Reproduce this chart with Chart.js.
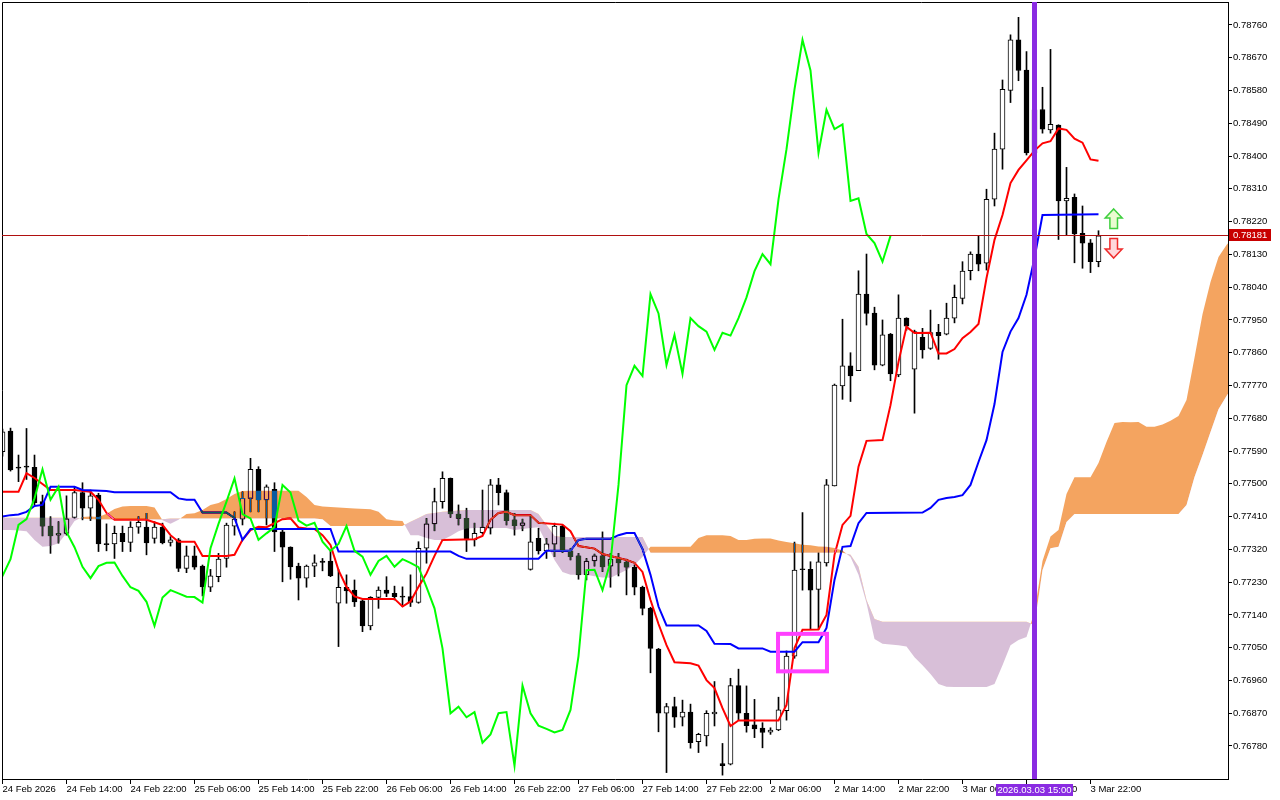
<!DOCTYPE html>
<html>
<head>
<meta charset="utf-8">
<title>AUDCAD-like H1 Ichimoku</title>
<script src="https://cdn.jsdelivr.net/npm/chart.js"></script>
<style>
  html, body { margin: 0; padding: 0; background: #fff; }
  #wrap { width: 1280px; height: 800px; }
</style>
</head>
<body>
<div id="wrap"><canvas id="chart" width="1280" height="800"></canvas></div>
<script>
// hourly candles, bar 0 = 24 Feb 06:00
const open = [
    0.77588, 0.77645, 0.77545, 0.77547, 0.77545, 0.77451, 0.77384, 0.77359, 0.77364, 0.77408,
    0.77476, 0.77433, 0.77469, 0.77335, 0.77335, 0.77364, 0.77339, 0.77381, 0.77381, 0.77350,
    0.77381, 0.77339, 0.77346, 0.77268, 0.77302, 0.77274, 0.77216, 0.77245, 0.77295, 0.77384,
    0.77403, 0.77460, 0.77540, 0.77456, 0.77485, 0.77368, 0.77326, 0.77274, 0.77241, 0.77274,
    0.77288, 0.77288, 0.77172, 0.77216, 0.77208, 0.77179, 0.77110, 0.77188, 0.77208, 0.77199,
    0.77192, 0.77190, 0.77174, 0.77323, 0.77390, 0.77451, 0.77515, 0.77417, 0.77405, 0.77346,
    0.77366, 0.77378, 0.77497, 0.77476, 0.77401, 0.77386, 0.77265, 0.77350, 0.77316, 0.77334,
    0.77384, 0.77316, 0.77302, 0.77250, 0.77288, 0.77302, 0.77274, 0.77293, 0.77285, 0.77271,
    0.77216, 0.77158, 0.77046, 0.76870, 0.76888, 0.76859, 0.76873, 0.76792, 0.76808, 0.76868,
    0.76732, 0.76730, 0.76946, 0.76870, 0.76838, 0.76829, 0.76818, 0.76824, 0.76877, 0.77027,
    0.77265, 0.77265, 0.77210, 0.77283, 0.77494, 0.77769, 0.77824, 0.77811, 0.78021, 0.77969,
    0.77826, 0.77911, 0.77799, 0.77955, 0.77815, 0.77902, 0.77872, 0.77916, 0.77911, 0.77955,
    0.78009, 0.78085, 0.78131, 0.78106, 0.78282, 0.78419, 0.78580, 0.78719, 0.78636, 0.78409,
    0.78528, 0.78472, 0.78485, 0.78277, 0.78287, 0.78188, 0.78162, 0.78110
];
const high = [
    0.77650, 0.77653, 0.77579, 0.77652, 0.77579, 0.77469, 0.77410, 0.77396, 0.77467, 0.77492,
    0.77503, 0.77483, 0.77474, 0.77390, 0.77384, 0.77384, 0.77396, 0.77410, 0.77419, 0.77396,
    0.77392, 0.77355, 0.77350, 0.77329, 0.77329, 0.77277, 0.77265, 0.77309, 0.77392, 0.77423,
    0.77478, 0.77570, 0.77547, 0.77497, 0.77503, 0.77373, 0.77327, 0.77282, 0.77277, 0.77305,
    0.77295, 0.77318, 0.77265, 0.77250, 0.77236, 0.77181, 0.77190, 0.77217, 0.77245, 0.77219,
    0.77217, 0.77250, 0.77341, 0.77405, 0.77488, 0.77533, 0.77516, 0.77442, 0.77433, 0.77392,
    0.77483, 0.77512, 0.77515, 0.77483, 0.77419, 0.77403, 0.77414, 0.77378, 0.77350, 0.77392,
    0.77387, 0.77323, 0.77309, 0.77295, 0.77307, 0.77368, 0.77309, 0.77309, 0.77293, 0.77277,
    0.77219, 0.77161, 0.77048, 0.76897, 0.76914, 0.76906, 0.76895, 0.76815, 0.76877, 0.76957,
    0.76787, 0.76966, 0.76991, 0.76945, 0.76908, 0.76844, 0.76830, 0.76914, 0.77041, 0.77340,
    0.77421, 0.77286, 0.77310, 0.77512, 0.77774, 0.77952, 0.77860, 0.78085, 0.78131, 0.77985,
    0.77950, 0.77913, 0.78019, 0.77956, 0.77922, 0.77927, 0.77977, 0.77938, 0.77996, 0.78046,
    0.78110, 0.78137, 0.78181, 0.78309, 0.78463, 0.78609, 0.78733, 0.78781, 0.78687, 0.78554,
    0.78589, 0.78693, 0.78486, 0.78369, 0.78296, 0.78263, 0.78171, 0.78195
];
const low = [
    0.77576, 0.77535, 0.77506, 0.77512, 0.77442, 0.77357, 0.77309, 0.77337, 0.77359, 0.77406,
    0.77401, 0.77399, 0.77314, 0.77316, 0.77295, 0.77314, 0.77314, 0.77364, 0.77305, 0.77337,
    0.77335, 0.77329, 0.77259, 0.77256, 0.77265, 0.77192, 0.77204, 0.77231, 0.77271, 0.77359,
    0.77387, 0.77423, 0.77423, 0.77387, 0.77314, 0.77231, 0.77238, 0.77181, 0.77216, 0.77245,
    0.77261, 0.77245, 0.77053, 0.77172, 0.77163, 0.77094, 0.77099, 0.77158, 0.77190, 0.77181,
    0.77163, 0.77163, 0.77172, 0.77282, 0.77371, 0.77433, 0.77408, 0.77387, 0.77314, 0.77329,
    0.77362, 0.77362, 0.77442, 0.77387, 0.77359, 0.77371, 0.77263, 0.77307, 0.77295, 0.77300,
    0.77311, 0.77291, 0.77238, 0.77236, 0.77274, 0.77259, 0.77216, 0.77247, 0.77195, 0.77195,
    0.77140, 0.76981, 0.76819, 0.76707, 0.76831, 0.76835, 0.76774, 0.76762, 0.76780, 0.76835,
    0.76700, 0.76728, 0.76851, 0.76818, 0.76803, 0.76775, 0.76812, 0.76822, 0.76851, 0.77021,
    0.77208, 0.77100, 0.77100, 0.77274, 0.77494, 0.77732, 0.77726, 0.77811, 0.77936, 0.77813,
    0.77824, 0.77783, 0.77794, 0.77922, 0.77694, 0.77845, 0.77869, 0.77842, 0.77909, 0.77942,
    0.77994, 0.78060, 0.78085, 0.78087, 0.78263, 0.78364, 0.78547, 0.78607, 0.78403, 0.78389,
    0.78463, 0.78463, 0.78171, 0.78183, 0.78107, 0.78092, 0.78080, 0.78096
];
const close = [
    0.77643, 0.77538, 0.77543, 0.77546, 0.77448, 0.77384, 0.77357, 0.77364, 0.77404, 0.77476,
    0.77433, 0.77467, 0.77335, 0.77333, 0.77364, 0.77341, 0.77381, 0.77394, 0.77338, 0.77381,
    0.77338, 0.77346, 0.77268, 0.77302, 0.77271, 0.77217, 0.77247, 0.77293, 0.77387, 0.77403,
    0.77460, 0.77540, 0.77456, 0.77492, 0.77368, 0.77326, 0.77272, 0.77241, 0.77274, 0.77283,
    0.77284, 0.77247, 0.77216, 0.77206, 0.77176, 0.77110, 0.77188, 0.77208, 0.77199, 0.77190,
    0.77189, 0.77174, 0.77323, 0.77390, 0.77451, 0.77515, 0.77417, 0.77405, 0.77346, 0.77364,
    0.77381, 0.77497, 0.77476, 0.77399, 0.77385, 0.77393, 0.77341, 0.77316, 0.77335, 0.77384,
    0.77316, 0.77300, 0.77250, 0.77288, 0.77302, 0.77272, 0.77293, 0.77283, 0.77271, 0.77216,
    0.77158, 0.77048, 0.76870, 0.76888, 0.76859, 0.76873, 0.76789, 0.76812, 0.76870, 0.76873,
    0.76726, 0.76946, 0.76870, 0.76836, 0.76827, 0.76817, 0.76824, 0.76879, 0.77027, 0.77263,
    0.77264, 0.77208, 0.77286, 0.77497, 0.77771, 0.77824, 0.77796, 0.78021, 0.77968, 0.77826,
    0.77909, 0.77802, 0.77955, 0.77933, 0.77918, 0.77868, 0.77915, 0.77907, 0.77955, 0.78012,
    0.78084, 0.78131, 0.78103, 0.78281, 0.78419, 0.78583, 0.78719, 0.78635, 0.78409, 0.78527,
    0.78474, 0.78487, 0.78277, 0.78284, 0.78186, 0.78161, 0.78110, 0.78181
];

// Tenkan-sen (red) and Kijun-sen (blue), read at their corners
const tenkanBar = [0, 2, 3, 4, 6, 9, 11, 12, 13, 14, 18, 20, 21, 22, 24, 25, 28, 29, 30, 31,
    32, 33, 35, 36, 37, 38, 39, 40, 41, 42, 43, 44, 45, 49, 50, 51, 52, 53, 54, 55,
    59, 60, 61, 62, 63, 64, 66, 67, 70, 71, 72, 74, 75, 76, 78, 79, 80, 81, 82, 83,
    84, 86, 87, 88, 89, 90, 91, 92, 97, 98, 99, 100, 102, 103, 104, 105, 106, 107, 108, 110,
    111, 112, 113, 114, 116, 117, 118, 119, 120, 121, 122, 123, 124, 125, 126, 127, 128, 129, 130, 131,
    132, 133, 134, 135, 136, 137];
const tenkanVal = [0.77478, 0.77478, 0.77529, 0.77516, 0.77483, 0.77483, 0.77478, 0.77456, 0.77420, 0.77401,
    0.77401, 0.77387, 0.77359, 0.77341, 0.77341, 0.77302, 0.77302, 0.77305, 0.77346, 0.77373,
    0.77382, 0.77381, 0.77403, 0.77405, 0.77380, 0.77377, 0.77376, 0.77359, 0.77332, 0.77263,
    0.77217, 0.77191, 0.77184, 0.77184, 0.77163, 0.77177, 0.77217, 0.77254, 0.77302, 0.77346,
    0.77348, 0.77357, 0.77401, 0.77420, 0.77423, 0.77414, 0.77414, 0.77393, 0.77388, 0.77370,
    0.77329, 0.77322, 0.77307, 0.77302, 0.77291, 0.77283, 0.77258, 0.77181, 0.77115, 0.77057,
    0.77010, 0.77007, 0.77001, 0.76961, 0.76939, 0.76884, 0.76835, 0.76850, 0.76850, 0.76893,
    0.77049, 0.77099, 0.77100, 0.77140, 0.77305, 0.77387, 0.77412, 0.77547, 0.77618, 0.77620,
    0.77716, 0.77835, 0.77931, 0.77914, 0.77915, 0.77858, 0.77858, 0.77870, 0.77900, 0.77917,
    0.77939, 0.78065, 0.78170, 0.78238, 0.78326, 0.78362, 0.78388, 0.78415, 0.78435, 0.78441,
    0.78476, 0.78472, 0.78448, 0.78437, 0.78391, 0.78387];

const kijunBar = [0, 1, 2, 3, 4, 5, 6, 9, 10, 13, 14, 21, 22, 23, 24, 25, 28, 29, 30, 31,
    41, 42, 56, 57, 58, 67, 68, 71, 72, 73, 76, 77, 78, 79, 80, 81, 82, 83, 87, 88,
    89, 91, 92, 95, 96, 99, 100, 102, 103, 104, 105, 106, 107, 108, 115, 116, 117, 118, 119, 120,
    121, 122, 123, 124, 125, 126, 127, 128, 129, 130, 137];
const kijunVal = [0.77410, 0.77414, 0.77416, 0.77423, 0.77439, 0.77442, 0.77492, 0.77492, 0.77483, 0.77480,
    0.77477, 0.77477, 0.77460, 0.77456, 0.77456, 0.77421, 0.77421, 0.77406, 0.77346, 0.77376,
    0.77376, 0.77314, 0.77314, 0.77302, 0.77294, 0.77294, 0.77316, 0.77316, 0.77346, 0.77349,
    0.77349, 0.77359, 0.77365, 0.77365, 0.77321, 0.77250, 0.77163, 0.77111, 0.77111, 0.77096,
    0.77061, 0.77060, 0.77048, 0.77048, 0.77039, 0.77039, 0.77065, 0.77065, 0.77104, 0.77236,
    0.77327, 0.77329, 0.77392, 0.77420, 0.77421, 0.77434, 0.77456, 0.77461, 0.77464, 0.77469,
    0.77497, 0.77560, 0.77620, 0.77719, 0.77862, 0.77918, 0.77955, 0.78019, 0.78120, 0.78238,
    0.78240];

// Chikou span (green), first value sits on bar -1
const chikouStart = -1;
const chikou = [
    0.77217, 0.77247, 0.77293, 0.77387, 0.77403, 0.77460, 0.77540, 0.77456, 0.77492, 0.77368,
    0.77326, 0.77272, 0.77241, 0.77274, 0.77283, 0.77284, 0.77247, 0.77216, 0.77206, 0.77176,
    0.77110, 0.77188, 0.77208, 0.77199, 0.77190, 0.77189, 0.77174, 0.77323, 0.77390, 0.77451,
    0.77515, 0.77417, 0.77405, 0.77346, 0.77364, 0.77381, 0.77497, 0.77476, 0.77399, 0.77385,
    0.77393, 0.77341, 0.77316, 0.77335, 0.77384, 0.77316, 0.77300, 0.77250, 0.77288, 0.77302,
    0.77272, 0.77293, 0.77283, 0.77271, 0.77216, 0.77158, 0.77048, 0.76870, 0.76888, 0.76859,
    0.76873, 0.76789, 0.76812, 0.76870, 0.76873, 0.76726, 0.76946, 0.76870, 0.76836, 0.76827,
    0.76817, 0.76824, 0.76879, 0.77027, 0.77263, 0.77264, 0.77208, 0.77286, 0.77497, 0.77771,
    0.77824, 0.77796, 0.78021, 0.77968, 0.77826, 0.77909, 0.77802, 0.77955, 0.77933, 0.77918,
    0.77868, 0.77915, 0.77907, 0.77955, 0.78012, 0.78084, 0.78131, 0.78103, 0.78281, 0.78419,
    0.78583, 0.78719, 0.78635, 0.78409, 0.78527, 0.78474, 0.78487, 0.78277, 0.78284, 0.78186,
    0.78161, 0.78110, 0.78181
];

// Senkou span A / B (cloud), same bars for both
const cloudBar = [
    0, 1, 2, 3, 4, 5, 6, 7, 8, 9,
    10, 11, 12, 13, 14, 15, 16, 18, 19, 20,
    21, 22, 23, 24, 25, 26, 27, 28, 29, 30,
    31, 37, 38, 39, 40, 41, 42, 44, 46, 47,
    48, 49, 50, 51, 52, 53, 54, 55, 56, 57,
    58, 59, 63, 64, 65, 66, 67, 68, 69, 70,
    71, 73, 74, 75, 76, 77, 78, 79, 80, 81,
    86, 87, 88, 90, 91, 92, 93, 94, 95, 96,
    97, 98, 99, 100, 101, 102, 103, 104, 105, 106,
    107, 108, 109, 110, 111, 112, 113, 114, 115, 116,
    117, 118, 119, 123, 124, 125, 126, 127, 128, 129,
    130, 131, 132, 133, 134, 136, 137, 138, 139, 140,
    141, 142, 143, 144, 145, 146, 147, 148, 149, 150,
    151, 152, 153, 154
];
const spanA = [
    0.77373, 0.77373, 0.77372, 0.77370, 0.77346, 0.77327, 0.77329, 0.77337, 0.77365, 0.77398,
    0.77409, 0.77410, 0.77409, 0.77418, 0.77431, 0.77438, 0.77439, 0.77439, 0.77435, 0.77400,
    0.77390, 0.77401, 0.77417, 0.77419, 0.77428, 0.77442, 0.77447, 0.77458, 0.77472, 0.77480,
    0.77481, 0.77481, 0.77464, 0.77442, 0.77438, 0.77436, 0.77435, 0.77432, 0.77430, 0.77423,
    0.77403, 0.77399, 0.77398, 0.77359, 0.77359, 0.77351, 0.77346, 0.77346, 0.77357, 0.77370,
    0.77377, 0.77379, 0.77379, 0.77373, 0.77376, 0.77379, 0.77381, 0.77337, 0.77291, 0.77258,
    0.77250, 0.77250, 0.77246, 0.77243, 0.77242, 0.77252, 0.77263, 0.77277, 0.77300, 0.77327,
    0.77327, 0.77351, 0.77359, 0.77359, 0.77357, 0.77346, 0.77346, 0.77349, 0.77350, 0.77350,
    0.77344, 0.77340, 0.77337, 0.77333, 0.77331, 0.77328, 0.77327, 0.77324, 0.77317, 0.77299,
    0.77250, 0.77173, 0.77074, 0.77061, 0.77059, 0.77057, 0.77053, 0.77024, 0.77002, 0.76978,
    0.76950, 0.76943, 0.76942, 0.76942, 0.76950, 0.77002, 0.77057, 0.77071, 0.77079, 0.77148,
    0.77288, 0.77355, 0.77373, 0.77472, 0.77518, 0.77518, 0.77557, 0.77615, 0.77667, 0.77670,
    0.77669, 0.77670, 0.77657, 0.77657, 0.77663, 0.77673, 0.77686, 0.77730, 0.77846, 0.77966,
    0.78054, 0.78123, 0.78156, 0.78180
];
const spanB = [
    0.77407, 0.77407, 0.77407, 0.77407, 0.77407, 0.77407, 0.77407, 0.77407, 0.77407, 0.77407,
    0.77404, 0.77403, 0.77402, 0.77402, 0.77402, 0.77402, 0.77402, 0.77402, 0.77402, 0.77403,
    0.77405, 0.77405, 0.77405, 0.77405, 0.77405, 0.77405, 0.77405, 0.77405, 0.77405, 0.77405,
    0.77405, 0.77405, 0.77405, 0.77405, 0.77403, 0.77384, 0.77384, 0.77384, 0.77384, 0.77384,
    0.77384, 0.77384, 0.77384, 0.77396, 0.77406, 0.77417, 0.77420, 0.77423, 0.77425, 0.77427,
    0.77428, 0.77428, 0.77428, 0.77428, 0.77428, 0.77428, 0.77417, 0.77387, 0.77357, 0.77354,
    0.77354, 0.77354, 0.77354, 0.77354, 0.77354, 0.77354, 0.77354, 0.77354, 0.77354, 0.77311,
    0.77311, 0.77311, 0.77311, 0.77311, 0.77311, 0.77311, 0.77311, 0.77311, 0.77311, 0.77311,
    0.77311, 0.77311, 0.77311, 0.77311, 0.77311, 0.77311, 0.77311, 0.77311, 0.77311, 0.77305,
    0.77272, 0.77181, 0.77129, 0.77121, 0.77121, 0.77121, 0.77121, 0.77121, 0.77121, 0.77121,
    0.77121, 0.77121, 0.77121, 0.77121, 0.77121, 0.77121, 0.77121, 0.77121, 0.77121, 0.77112,
    0.77263, 0.77323, 0.77327, 0.77395, 0.77417, 0.77417, 0.77417, 0.77417, 0.77417, 0.77417,
    0.77417, 0.77417, 0.77417, 0.77417, 0.77417, 0.77417, 0.77417, 0.77442, 0.77519, 0.77579,
    0.77642, 0.77705, 0.77741, 0.77775
];

// axes
const timeTicks = [0, 8, 16, 24, 32, 40, 48, 56, 64, 72, 80, 88, 96, 104, 112, 120, 128, 136];
const timeLabels = ['24 Feb 2026', '24 Feb 14:00', '24 Feb 22:00', '25 Feb 06:00', '25 Feb 14:00',
    '25 Feb 22:00', '26 Feb 06:00', '26 Feb 14:00', '26 Feb 22:00', '27 Feb 06:00', '27 Feb 14:00',
    '27 Feb 22:00', '2 Mar 06:00', '2 Mar 14:00', '2 Mar 22:00', '3 Mar 06:00', '3 Mar 14:00', '3 Mar 22:00'];
const priceTicks = [0.76780, 0.76870, 0.76960, 0.77050, 0.77140, 0.77230, 0.77320, 0.77410,
    0.77500, 0.77590, 0.77680, 0.77770, 0.77860, 0.77950, 0.78040, 0.78130, 0.78220, 0.78310,
    0.78400, 0.78490, 0.78580, 0.78670, 0.78760];

// objects on the chart
const lastPrice = 0.78181;
const markerBar = 129;
const markerLabel = '2026.03.03 15:00';
const boxBars = [96.94, 103.06];
const boxPrices = [0.77088, 0.76985];
const arrowBar = 138.9;
const arrowUpPrice = 0.78255;
const arrowDownPrice = 0.78120;

const FONT = "9.5px 'Liberation Sans', Arial, sans-serif";
const bars = open.map((_, i) => i);
const toPoints = (xs, ys) => xs.map((x, k) => ({ x: x, y: ys[k] }));

// cloud is painted like MT5 does: inverted colours with 'difference',
// so it shows sandy brown / thistle on white and turns dark candles blue / green
const IDX_SPAN_A = 4;
const IDX_SPAN_B = 5;

function drawArrow(ctx, cx, tipY, dir, stroke, fill) {
    // dir 1 = pointing up (body below tip), -1 = pointing down
    const pts = [[0, 0], [8.5, 9], [3.8, 9], [3.8, 19.5], [-3.8, 19.5], [-3.8, 9], [-8.5, 9]];
    ctx.beginPath();
    pts.forEach(([dx, dy], k) => {
        const px = cx + dx, py = tipY + dir * dy;
        if (k === 0) ctx.moveTo(px, py); else ctx.lineTo(px, py);
    });
    ctx.closePath();
    ctx.fillStyle = fill;
    ctx.fill();
    ctx.lineWidth = 1.5;
    ctx.strokeStyle = stroke;
    ctx.stroke();
}

const mt5Overlay = {
    id: 'mt5Overlay',
    beforeDraw(chart) {
        const c = chart.ctx;
        c.save();
        c.fillStyle = '#ffffff';
        c.fillRect(0, 0, chart.width, chart.height);
        c.restore();
    },
    afterDatasetDraw(chart, args) {
        if (args.index === IDX_SPAN_B) chart.ctx.globalCompositeOperation = 'difference';
        if (args.index === IDX_SPAN_A) chart.ctx.globalCompositeOperation = 'source-over';
    },
    afterDraw(chart) {
        const c = chart.ctx, a = chart.chartArea;
        const xs = chart.scales.x, ys = chart.scales.y;
        c.save();
        c.globalCompositeOperation = 'source-over';

        // left and top part of the frame
        c.strokeStyle = '#000';
        c.lineWidth = 1;
        c.beginPath();
        c.moveTo(a.left + 0.5, a.bottom);
        c.lineTo(a.left + 0.5, a.top + 0.5);
        c.lineTo(a.right, a.top + 0.5);
        c.stroke();

        // magenta rectangle
        const bx0 = xs.getPixelForValue(boxBars[0]), bx1 = xs.getPixelForValue(boxBars[1]);
        const by0 = ys.getPixelForValue(boxPrices[0]), by1 = ys.getPixelForValue(boxPrices[1]);
        c.strokeStyle = '#ff40ff';
        c.lineWidth = 4;
        c.strokeRect(bx0, by0, bx1 - bx0, by1 - by0);

        // arrows
        const ax = xs.getPixelForValue(arrowBar);
        drawArrow(c, ax, ys.getPixelForValue(arrowUpPrice), 1, '#3fcf3f', 'rgba(225,250,190,0.7)');
        drawArrow(c, ax, ys.getPixelForValue(arrowDownPrice), -1, '#ef2b2b', 'rgba(255,200,205,0.7)');

        // bid line + price tag
        const py = Math.floor(ys.getPixelForValue(lastPrice)) + 0.5;
        c.strokeStyle = '#b01010';
        c.lineWidth = 1;
        c.beginPath();
        c.moveTo(a.left, py);
        c.lineTo(a.right, py);
        c.stroke();
        c.fillStyle = '#c80000';
        c.fillRect(a.right + 1, py - 6.5, 42, 12);
        c.fillStyle = '#fff';
        c.font = FONT;
        c.textAlign = 'left';
        c.textBaseline = 'middle';
        c.fillText(lastPrice.toFixed(5), a.right + 5, py);

        // vertical marker line with its time tag
        const mx = xs.getPixelForValue(markerBar);
        c.fillStyle = '#8a2be2';
        c.fillRect(mx - 2.5, a.top, 5, a.bottom - a.top);
        c.fillRect(mx - 38.5, a.bottom + 5, 77, 12);
        c.fillStyle = '#fff';
        c.textAlign = 'center';
        c.fillText(markerLabel, mx, a.bottom + 11.5);
        c.restore();
    }
};

const ctx = document.getElementById('chart').getContext('2d');
const chart = new Chart(ctx, {
    type: 'bar',
    data: {
        datasets: [
            {
                type: 'bar', label: 'wicks',
                data: bars.map(i => ({ x: i, y: [low[i], high[i]] })),
                backgroundColor: '#000', barThickness: 1, grouped: false, order: 7
            },
            {
                type: 'bar', label: 'bodies',
                data: bars.map(i => ({ x: i, y: [open[i], close[i]] })),
                backgroundColor: bars.map(i => close[i] >= open[i] ? '#ffffff' : '#000000'),
                borderColor: '#000', borderWidth: 1, borderSkipped: false,
                barThickness: 5, minBarLength: 1, grouped: false, order: 6
            },
            {
                type: 'line', label: 'Tenkan-sen', data: toPoints(tenkanBar, tenkanVal),
                borderColor: '#ff0000', borderWidth: 2, pointRadius: 0, fill: false, order: 5
            },
            {
                type: 'line', label: 'Kijun-sen', data: toPoints(kijunBar, kijunVal),
                borderColor: '#0000ff', borderWidth: 2, pointRadius: 0, fill: false, order: 4
            },
            {
                type: 'line', label: 'Senkou Span A', data: toPoints(cloudBar, spanA),
                borderColor: 'rgba(0,0,0,0)', borderWidth: 0, pointRadius: 0,
                fill: { target: '+1', above: 'rgb(11,91,159)', below: 'rgb(39,64,39)' }, order: 0
            },
            {
                type: 'line', label: 'Senkou Span B', data: toPoints(cloudBar, spanB),
                borderColor: 'rgba(0,0,0,0)', borderWidth: 0, pointRadius: 0, fill: false, order: 1
            },
            {
                type: 'line', label: 'Chikou Span',
                data: chikou.map((v, k) => ({ x: chikouStart + k, y: v })),
                borderColor: '#00ff00', borderWidth: 2, pointRadius: 0, fill: false, order: -1
            }
        ]
    },
    options: {
        responsive: false,
        animation: false,
        devicePixelRatio: 1,
        layout: { padding: { left: 2, top: 2, right: 0, bottom: 0 } },
        plugins: { legend: { display: false }, tooltip: { enabled: false } },
        scales: {
            x: {
                type: 'linear', min: -0.0625, max: 153.1875, offset: false,
                grid: { offset: false, drawOnChartArea: false, drawTicks: true, tickLength: 5, color: '#000' },
                border: { display: true, color: '#000' },
                ticks: {
                    autoSkip: false, maxRotation: 0, align: 'start', padding: 0, color: '#000',
                    font: { family: "'Liberation Sans', Arial, sans-serif", size: 9.5 },
                    callback: (v) => { const k = timeTicks.indexOf(v); return k >= 0 ? timeLabels[k] : ''; }
                },
                afterBuildTicks: (s) => { s.ticks = timeTicks.map(v => ({ value: v })); },
                afterFit: (s) => { s.height = 21; s.paddingLeft = 0; s.paddingRight = 0; }
            },
            y: {
                type: 'linear', position: 'right', min: 0.7668937, max: 0.7882316,
                grid: { drawOnChartArea: false, drawTicks: true, tickLength: 4, color: '#000' },
                border: { display: true, color: '#000' },
                ticks: {
                    padding: 1, color: '#000',
                    font: { family: "'Liberation Sans', Arial, sans-serif", size: 9.5 },
                    callback: (v) => Number(v).toFixed(5)
                },
                afterBuildTicks: (s) => { s.ticks = priceTicks.map(v => ({ value: v })); },
                afterFit: (s) => { s.width = 52; s.paddingTop = 0; s.paddingBottom = 0; }
            }
        }
    },
    plugins: [mt5Overlay]
});
</script>
</body>
</html>
